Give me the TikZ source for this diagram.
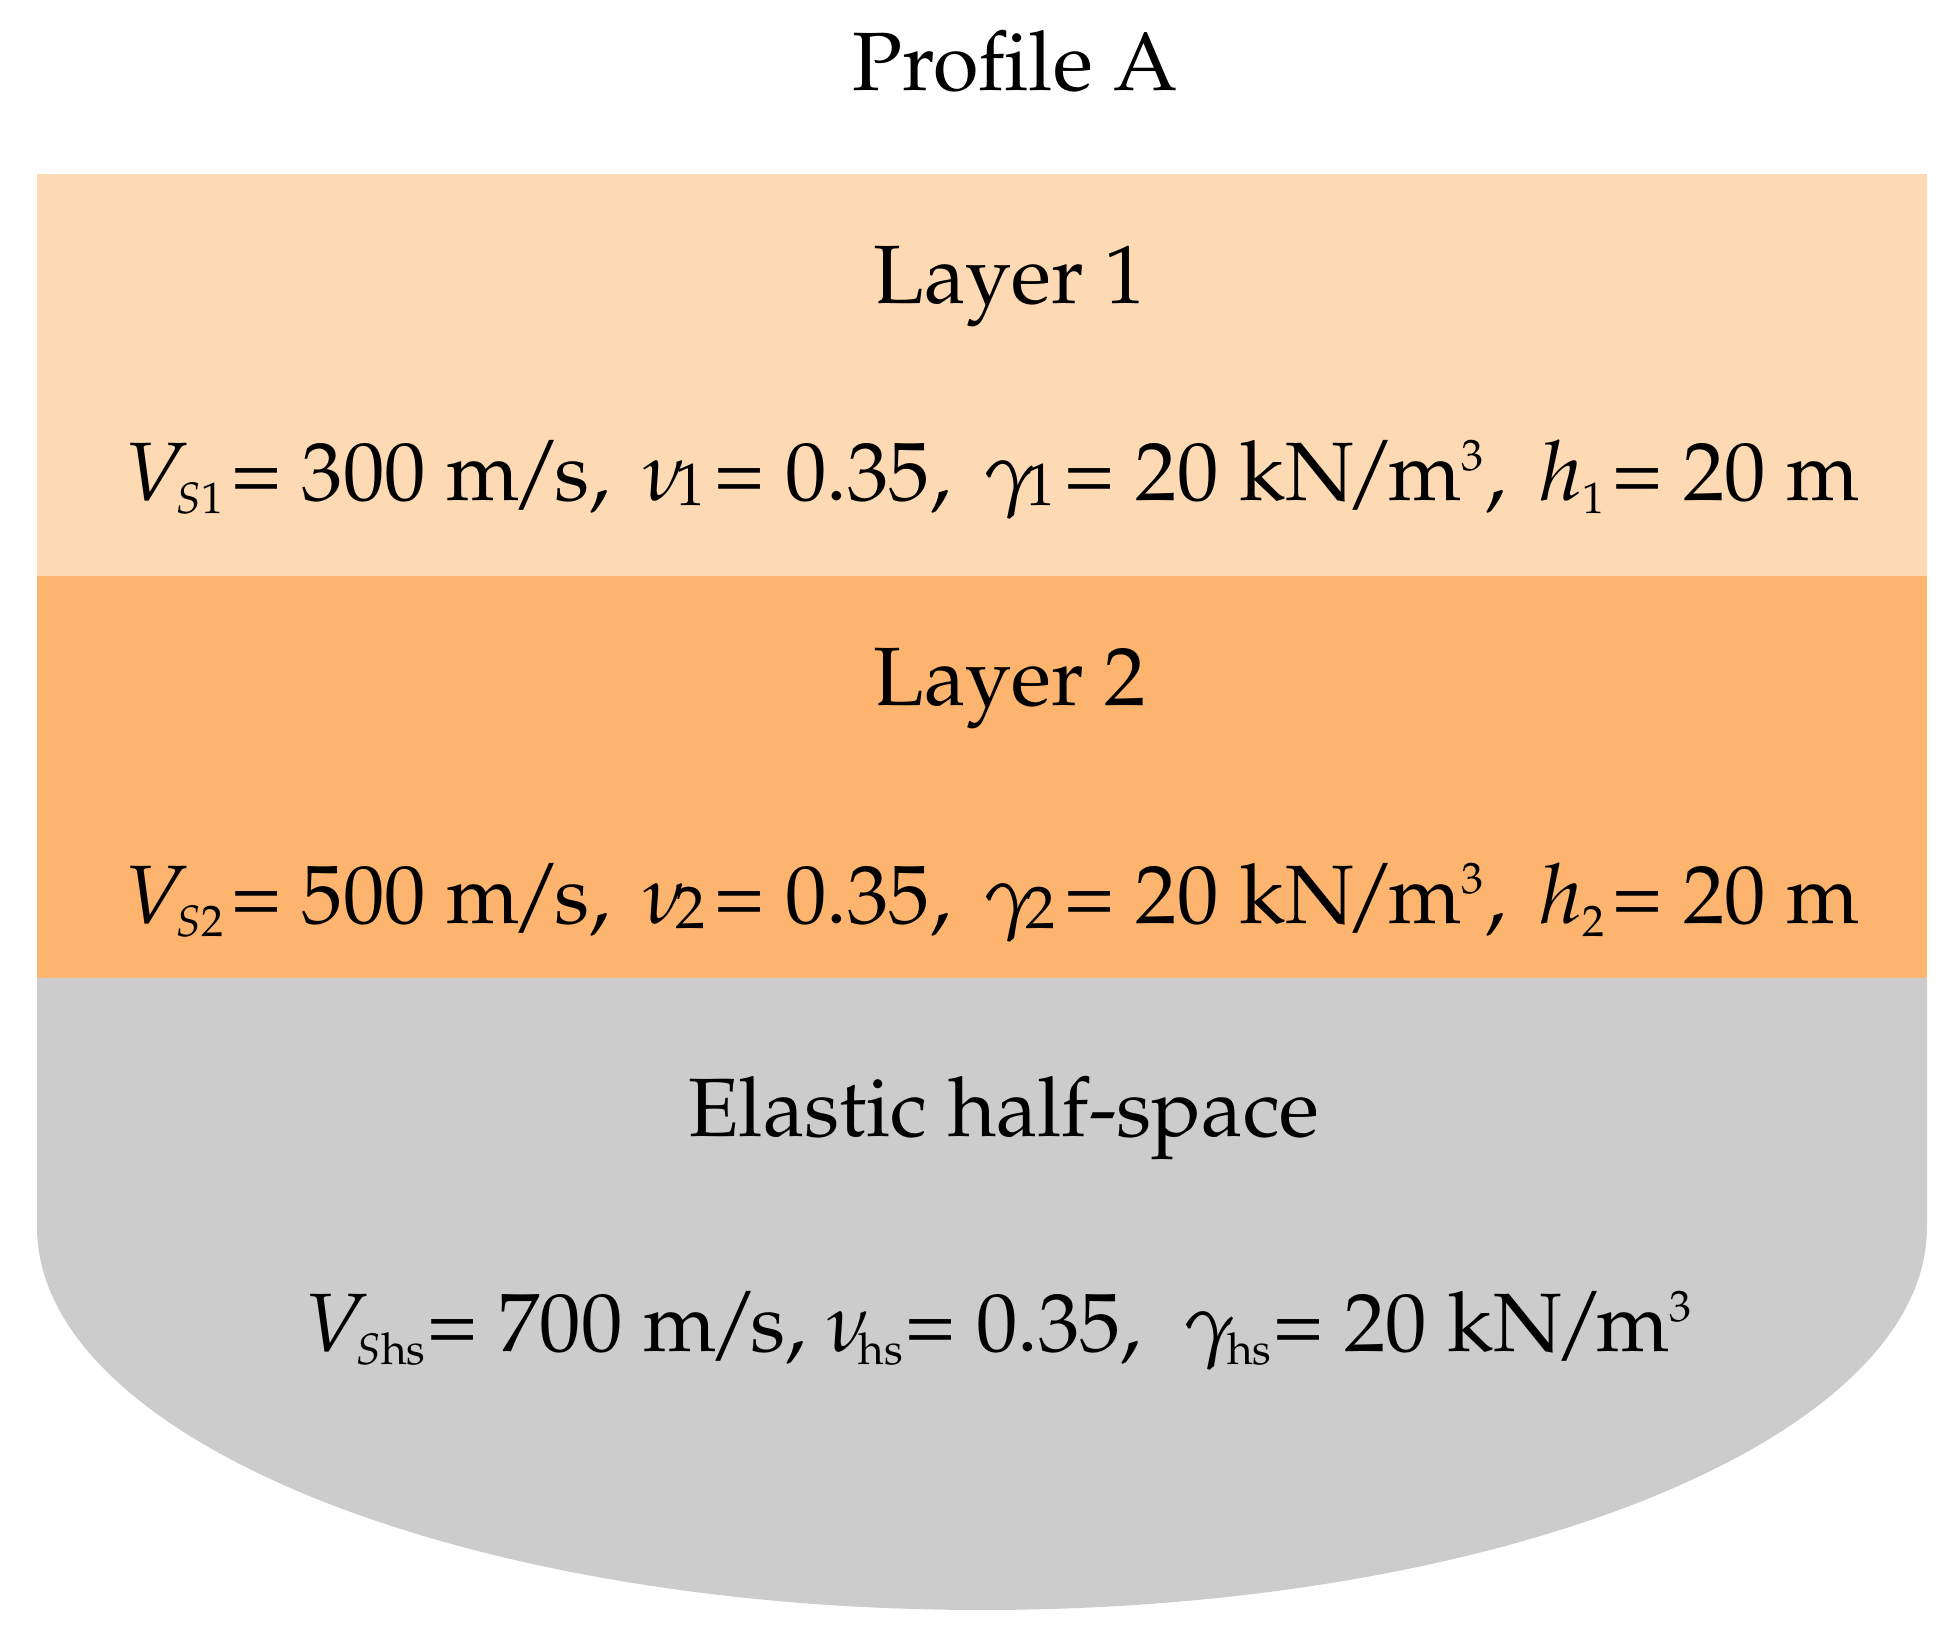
\documentclass[tikz,border=0pt]{standalone}
\usepackage[T1]{fontenc}
\usepackage{mathpazo}
\DeclareMathSizes{20.7}{20.7}{11}{8}
\definecolor{layerA}{RGB}{253,218,180}
\definecolor{layerB}{RGB}{253,180,110}
\definecolor{halfsp}{RGB}{204,204,204}
\newcommand{\eqs}{{=}\ }
\newcommand{\seqs}{\kern1.5pt{=}\ }
\newcommand{\gap}{\ \kern3pt}
\newcommand{\slsh}{\kern-2pt/\kern-2pt}
\newcommand{\gsub}[2]{$#1$\kern-2.6pt\raisebox{-1.1pt}{\fontsize{15}{15}\selectfont #2}\kern2.2pt}
\tikzset{
  lbl/.style={anchor=base, inner sep=0pt, font=\fontsize{20.7}{25}\selectfont},
}
\begin{document}
\begin{tikzpicture}[x=0.25pt,y=-0.25pt]
\useasboundingbox (0,0) rectangle (1953,1635);
% layers
\fill[layerA] (37,174) rectangle (1927,576);
\fill[layerB] (37,576) rectangle (1927,978);
\fill[halfsp] (37,978) -- (37,1227)
   arc[start angle=180, end angle=360, x radius=236.25pt, y radius=95.75pt]
   -- (1927,978) -- cycle;
% texts
\node[lbl] (title) at (1015,91) {Profile A};
\node[lbl] (l1) at (1010,304) {Layer 1};
\node[lbl] (p1) at (992,501) {$V_{S1}$\seqs 300 m\slsh s,\gap\gsub{\nu}{1}\eqs 0.35,\gap\gsub{\gamma}{1}\eqs 20 kN\slsh m$^3$,\gap$h_1$\seqs 20 m};
\node[lbl] (l2) at (1010,706) {Layer 2};
\node[lbl] (p2) at (992,924) {$V_{S2}$\seqs 500 m\slsh s,\gap\gsub{\nu}{2}\eqs 0.35,\gap\gsub{\gamma}{2}\eqs 20 kN\slsh m$^3$,\gap$h_2$\seqs 20 m};
\node[lbl] (l3) at (1004,1137) {Elastic half-space};
\node[lbl] (p3) at (999,1352) {$V_{S\mathrm{hs}}${=}\ 700 m\slsh s,\ $\nu_{\!\mathrm{hs}}$\eqs 0.35,\ \ $\gamma_{\!\mathrm{hs}}$\eqs 20 kN\slsh m$^3$};
\end{tikzpicture}
\end{document}
